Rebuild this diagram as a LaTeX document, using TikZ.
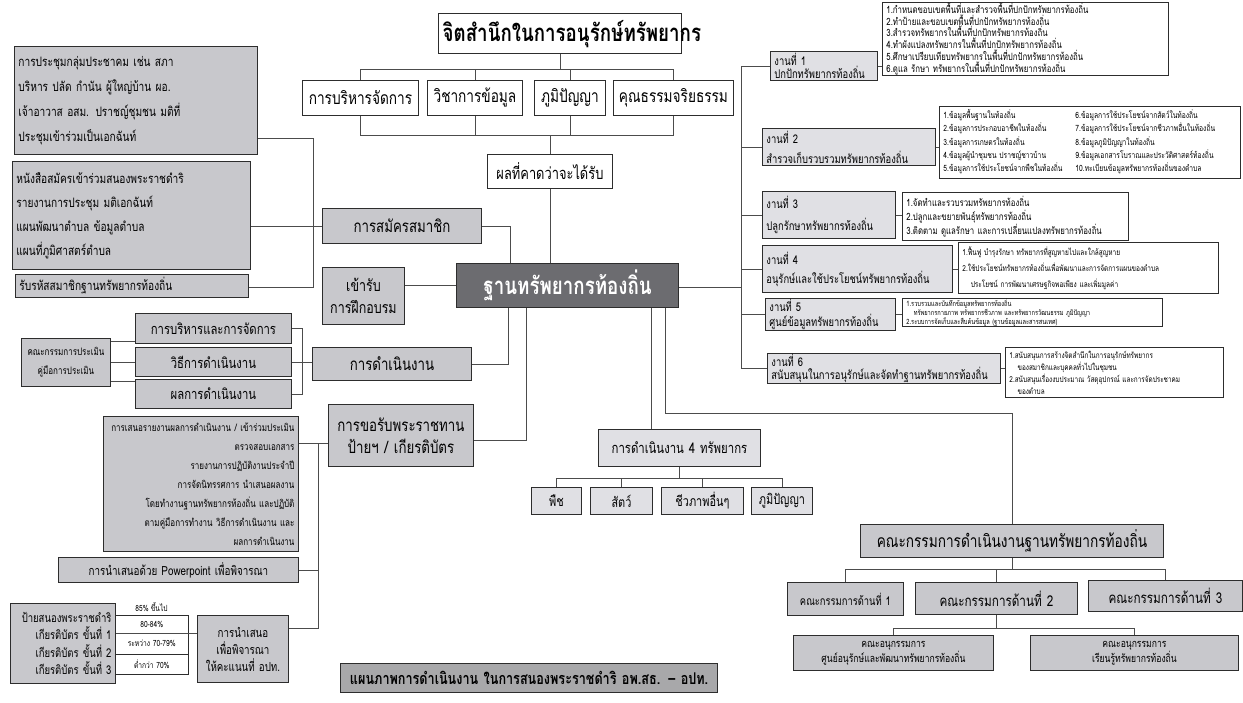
\documentclass[tikz,border=0pt]{standalone}
\usepackage{fontspec}
\setmainfont{Loma}[Script=Thai,FakeStretch=0.78]
\definecolor{gfill}{RGB}{200,200,204}
\definecolor{lfill}{RGB}{224,224,228}
\definecolor{dfill}{RGB}{108,108,112}
\definecolor{tfill}{RGB}{168,168,170}
\definecolor{edge}{RGB}{45,45,45}
\tikzset{
  box/.style={draw=edge,line width=0.9pt,inner xsep=4pt,inner ysep=1pt,align=center,fill=white,font=\fontsize{13}{16}\selectfont},
  grey/.style={fill=gfill},
  lgrey/.style={fill=lfill},
  conn/.style={draw=edge!85,line width=0.7pt},
  det/.style={align=left,inner ysep=0.5pt},
}
\newcommand{\bbox}[7][]{%
  \pgfmathsetmacro\bxw{#5-#3}\pgfmathsetmacro\bxh{#6-#4}\pgfmathsetmacro\bxt{#5-#3-8}%
  \node[box,minimum width=\bxw pt,minimum height=\bxh pt,text width=\bxt pt,anchor=north west,#1] (#2) at (#3,#4) {#7};}
\newcommand{\fs}[2]{\fontsize{#1}{#2}\selectfont}
\begin{document}
\begin{tikzpicture}[x=1pt,y=-1pt]
\fill[white] (0,0) rectangle (1243,703);
\useasboundingbox (0,0) rectangle (1243,703);
% ---------- top tree
\bbox[line width=1.4pt,font=\fs{24}{28}\bfseries]{title}{438}{13}{681}{53}{จิตสำนึกในการอนุรักษ์ทรัพยากร}
\bbox[font=\fs{17.5}{20}]{t1}{302}{80}{418}{115}{การบริหารจัดการ}
\bbox[font=\fs{17.5}{20}]{t2}{427}{80}{522}{115}{วิชาการข้อมูล}
\bbox[font=\fs{17.5}{20}]{t3}{534}{80}{605}{115}{ภูมิปัญญา}
\bbox[font=\fs{17.5}{20}]{t4}{613}{80}{733}{115}{คุณธรรมจริยธรรม}
\bbox[font=\fs{16.5}{20}]{exp}{487}{154}{612}{188}{ผลที่คาดว่าจะได้รับ}
\bbox[fill=dfill,text=white,line width=1.2pt,font=\fs{24}{28}\bfseries]{main}{456}{263}{678}{307}{ฐานทรัพยากรท้องถิ่น}
% ---------- centre left
\bbox[grey,font=\fs{17}{20}]{reg}{322}{208}{481}{243}{การสมัครสมาชิก}
\bbox[grey,font=\fs{16}{22}]{train}{322}{267}{404}{324}{เข้ารับ\\การฝึกอบรม}
\bbox[grey,font=\fs{17}{20}]{op}{312}{347}{471}{380}{การดำเนินงาน}
\bbox[grey,font=\fs{17}{22}]{royal}{328}{404}{473}{466}{การขอรับพระราชทาน\\ป้ายฯ / เกียรติบัตร}
% ---------- left column
\bbox[grey,align=left,font=\fs{13}{25}]{A}{14}{46}{257}{154}{การประชุมกลุ่มประชาคม เช่น สภา\\บริหาร ปลัด กำนัน ผู้ใหญ่บ้าน ผอ.\\เจ้าอาวาส อสม. ปราชญ์ชุมชน มติที่\\ประชุมเข้าร่วมเป็นเอกฉันท์}
\bbox[grey,align=left,font=\fs{13}{24}]{B}{12}{161}{250}{269}{หนังสือสมัครเข้าร่วมสนองพระราชดำริ\\รายงานการประชุม มติเอกฉันท์\\แผนพัฒนาตำบล ข้อมูลตำบล\\แผนที่ภูมิศาสตร์ตำบล}
\bbox[grey,align=left,font=\fs{13}{15}]{C}{15}{274}{248}{297}{รับรหัสสมาชิกฐานทรัพยากรท้องถิ่น}
\bbox[grey,font=\fs{10.3}{19}]{eval}{21}{338}{110}{386}{คณะกรรมการประเมิน\\คู่มือการประเมิน}
\bbox[grey,font=\fs{14.5}{17}]{m1}{135}{313}{291}{343}{การบริหารและการจัดการ}
\bbox[grey,font=\fs{14.5}{17}]{m2}{135}{347}{291}{376}{วิธีการดำเนินงาน}
\bbox[grey,font=\fs{14.5}{17}]{m3}{135}{379}{291}{408}{ผลการดำเนินงาน}
\bbox[grey,align=right,font=\fs{10.3}{19}]{D}{103}{416}{298}{551}{การเสนอรายงานผลการดำเนินงาน / เข้าร่วมประเมิน\\ตรวจสอบเอกสาร\\รายงานการปฏิบัติงานประจำปี\\การจัดนิทรรศการ นำเสนอผลงาน\\โดยทำงานฐานทรัพยากรท้องถิ่น และปฏิบัติ\\ตามคู่มือการทำงาน วิธีการดำเนินงาน และ\\ผลการดำเนินงาน}
\bbox[grey,font=\fs{12.6}{15}]{P}{58}{557}{298}{582}{การนำเสนอด้วย Powerpoint เพื่อพิจารณา}
\bbox[grey,align=right,font=\fs{12.2}{17.3}]{E}{10}{603}{115}{683}{ป้ายสนองพระราชดำริ\\เกียรติบัตร ขั้นที่ 1\\เกียรติบัตร ขั้นที่ 2\\เกียรติบัตร ขั้นที่ 3}
\node[font=\fs{8.5}{10},inner sep=0pt] (r0) at (151.5,607) {85\% ขึ้นไป};
\bbox[line width=0.6pt,inner ysep=0pt,font=\fs{8.5}{10}]{r1}{115}{615}{188}{633}{80-84\%}
\bbox[line width=0.6pt,inner ysep=0pt,font=\fs{8.5}{10}]{r2}{115}{633}{188}{654}{ระหว่าง 70-79\%}
\bbox[line width=0.6pt,inner ysep=0pt,font=\fs{8.5}{10}]{r3}{115}{654}{188}{674}{ต่ำกว่า 70\%}
\bbox[grey,font=\fs{12.5}{17}]{F}{197}{615}{288}{682}{การนำเสนอ\\เพื่อพิจารณา\\ให้คะแนนที่ อปท.}
% ---------- tasks
\bbox[lgrey,align=left,font=\fs{12}{12.5}]{task1}{770}{51}{877}{80}{งานที่ 1\\ปกปักทรัพยากรท้องถิ่น}
\bbox[lgrey,align=left,font=\fs{12}{20}]{task2}{762}{128}{935}{165}{งานที่ 2\\สำรวจเก็บรวบรวมทรัพยากรท้องถิ่น}
\bbox[lgrey,align=left,font=\fs{12}{22}]{task3}{762}{191}{895}{238}{งานที่ 3\\ปลูกรักษาทรัพยากรท้องถิ่น}
\bbox[lgrey,align=left,font=\fs{12}{19}]{task4}{762}{245}{952}{292}{งานที่ 4\\อนุรักษ์และใช้ประโยชน์ทรัพยากรท้องถิ่น}
\bbox[lgrey,align=left,font=\fs{12}{15}]{task5}{765}{298}{895}{330}{งานที่ 5\\ศูนย์ข้อมูลทรัพยากรท้องถิ่น}
\bbox[lgrey,align=left,font=\fs{12}{13}]{task6}{767}{353}{1000}{382}{งานที่ 6\\สนับสนุนในการอนุรักษ์และจัดทำฐานทรัพยากรท้องถิ่น}
\bbox[det,font=\fs{10}{11.7}]{det1}{882}{2}{1168}{73}{1.กำหนดขอบเขตพื้นที่และสำรวจพื้นที่ปกปักทรัพยากรท้องถิ่น\\2.ทำป้ายและขอบเขตพื้นที่ปกปักทรัพยากรท้องถิ่น\\3.สำรวจทรัพยากรในพื้นที่ปกปักทรัพยากรท้องถิ่น\\4.ทำผังแปลงทรัพยากรในพื้นที่ปกปักทรัพยากรท้องถิ่น\\5.ศึกษาเปรียบเทียบทรัพยากรในพื้นที่ปกปักทรัพยากรท้องถิ่น\\6.ดูแล รักษา ทรัพยากรในพื้นที่ปกปักทรัพยากรท้องถิ่น}
\bbox[det,font=\fs{8.6}{13.3}]{det2}{939}{106}{1240}{178}{\begin{tabular}{@{}p{128pt}@{\hspace{4pt}}l@{}}1.ข้อมูลพื้นฐานในท้องถิ่น & 6.ข้อมูลการใช้ประโยชน์จากสัตว์ในท้องถิ่น\\2.ข้อมูลการประกอบอาชีพในท้องถิ่น & 7.ข้อมูลการใช้ประโยชน์จากชีวภาพอื่นในท้องถิ่น\\3.ข้อมูลการเกษตรในท้องถิ่น & 8.ข้อมูลภูมิปัญญาในท้องถิ่น\\4.ข้อมูลผู้นำชุมชน ปราชญ์ชาวบ้าน & 9.ข้อมูลเอกสารโบราณและประวัติศาสตร์ท้องถิ่น\\5.ข้อมูลการใช้ประโยชน์จากพืชในท้องถิ่น & 10.ทะเบียนข้อมูลทรัพยากรท้องถิ่นของตำบล\end{tabular}}
\bbox[det,font=\fs{10}{14}]{det3}{902}{192}{1128}{240}{1.จัดทำและรวบรวมทรัพยากรท้องถิ่น\\2.ปลูกและขยายพันธุ์ทรัพยากรท้องถิ่น\\3.ติดตาม ดูแลรักษา และการเปลี่ยนแปลงทรัพยากรท้องถิ่น}
\bbox[det,font=\fs{8.3}{16}]{det4}{958}{242}{1218}{293}{1.ฟื้นฟู บำรุงรักษา ทรัพยากรที่สูญหายไปและใกล้สูญหาย\\2.ใช้ประโยชน์ทรัพยากรท้องถิ่นเพื่อพัฒนาและการจัดการแผนของตำบล\\\quad ประโยชน์ การพัฒนาเศรษฐกิจพอเพียง และเพิ่มมูลค่า}
\bbox[det,font=\fs{7.3}{9}]{det5}{902}{298}{1162}{326}{1.รวบรวมและบันทึกข้อมูลทรัพยากรท้องถิ่น\\\quad ทรัพยากรกายภาพ ทรัพยากรชีวภาพ และทรัพยากรวัฒนธรรม ภูมิปัญญา\\2.ระบบการจัดเก็บและสืบค้นข้อมูล (ฐานข้อมูลและสารสนเทศ)}
\bbox[det,font=\fs{8.2}{12}]{det6}{1005}{347}{1223}{397}{1.สนับสนุนการสร้างจิตสำนึกในการอนุรักษ์ทรัพยากร\\\quad ของสมาชิกและบุคคลทั่วไปในชุมชน\\2.สนับสนุนเรื่องงบประมาณ วัสดุอุปกรณ์ และการจัดประชาคม\\\quad ของตำบล}
% ---------- four resources
\bbox[lgrey,font=\fs{14.6}{17}]{res4}{598}{429}{760}{466}{การดำเนินงาน 4 ทรัพยากร}
\bbox[lgrey,font=\fs{14}{16}]{c1}{531}{487}{581}{514}{พืช}
\bbox[lgrey,font=\fs{14}{16}]{c2}{590}{487}{652}{514}{สัตว์}
\bbox[lgrey,font=\fs{14}{16}]{c3}{661}{487}{743}{514}{ชีวภาพอื่นๆ}
\bbox[lgrey,font=\fs{14}{16}]{c4}{751}{487}{812}{514}{ภูมิปัญญา}
% ---------- committee
\bbox[grey,font=\fs{17.5}{20}]{comm}{860}{524}{1163}{557}{คณะกรรมการดำเนินงานฐานทรัพยากรท้องถิ่น}
\bbox[grey,font=\fs{12}{14}]{cm1}{787}{582}{903}{615}{คณะกรรมการด้านที่ 1}
\bbox[grey,font=\fs{15}{17}]{cm2}{915}{582}{1077}{614}{คณะกรรมการด้านที่ 2}
\bbox[grey,font=\fs{15}{17}]{cm3}{1088}{580}{1242}{611}{คณะกรรมการด้านที่ 3}
\bbox[grey,font=\fs{11}{15}]{s1}{793}{635}{993}{670}{คณะอนุกรรมการ\\ศูนย์อนุรักษ์และพัฒนาทรัพยากรท้องถิ่น}
\bbox[grey,font=\fs{11}{15}]{s2}{1030}{635}{1238}{670}{คณะอนุกรรมการ\\เรียนรู้ทรัพยากรท้องถิ่น}
% ---------- bottom title
\bbox[fill=tfill,line width=1.2pt,font=\fs{16.2}{19}\bfseries]{bt}{340}{663}{717}{692}{แผนภาพการดำเนินงาน ในการสนองพระราชดำริ อพ.สธ. – อปท.}
% ================= connectors
\draw[conn] (title.south) -- (title.south |- 0,69);
\draw[conn] (t1.north) -- (t1.north |- 0,69) -- (t4.north |- 0,69) -- (t4.north);
\draw[conn] (t2.north) -- (t2.north |- 0,69);
\draw[conn] (t3.north) -- (t3.north |- 0,69);
\draw[conn] (t1.south) -- (t1.south |- 0,135) -- (t4.south |- 0,135) -- (t4.south);
\draw[conn] (t2.south) -- (t2.south |- 0,135);
\draw[conn] (t3.south) -- (t3.south |- 0,135);
\draw[conn] (exp.north) -- (exp.north |- 0,135);
\draw[conn] (exp.south) -- (exp.south |- main.north);
% left column to registration
\coordinate (lb1) at (313,138);
\coordinate (lb2) at (313,287);
\draw[conn] (A.east |- lb1) -- (lb1) -- (lb2) -- (C.east |- lb2);
\draw[conn] (B.east |- reg.west) -- (reg.west);
\draw[conn] (reg.east) -| (main.north -| 510,0);
\draw[conn] (train.east |- 0,285) -- (main.west |- 0,285);
\draw[conn] (op.east) -| (main.south -| 508,0);
\draw[conn] (royal.east |- 0,440) -| (main.south -| 526,0);
% evaluation group
\draw[conn] (eval.east |- 0,341) -- (m1.west |- 0,341);
\draw[conn] (eval.east |- m2.west) -- (m2.west);
\draw[conn] (eval.east |- 0,381) -- (m3.west |- 0,381);
\coordinate (mb1) at (302,328);
\coordinate (mb2) at (302,394);
\draw[conn] (m1.east |- mb1) -- (mb1) -- (mb2) -- (m3.east |- mb2);
\draw[conn] (m2.east) -- (op.west |- m2.east);
% royal group
\coordinate (rb1) at (318,443);
\coordinate (rb2) at (318,628);
\draw[conn] (D.east |- rb1) -- (royal.west |- rb1);
\draw[conn] (rb1) -- (rb2) -- (F.east |- rb2);
\draw[conn] (P.east) -- (P.east -| rb1);
\draw[conn] (E.east |- r2.north east) -- (F.west |- r2.north east);
% four resources
\draw[conn] (main.south -| 651,0) -- (res4.north -| 651,0);
\draw[conn] (res4.south) -- (res4.south |- 0,478);
\draw[conn] (c1.north) -- (c1.north |- 0,478) -- (c4.north |- 0,478) -- (c4.north);
\draw[conn] (c2.north) -- (c2.north |- 0,478);
\draw[conn] (c3.north) -- (c3.north |- 0,478);
% committee
\draw[conn] (main.south -| 665,0) -- (665,413) -| (comm.north);
\draw[conn] (comm.south) -- (comm.south |- 0,569);
\draw[conn] (cm1.north) -- (cm1.north |- 0,569) -- (cm3.north |- 0,569) -- (cm3.north);
\draw[conn] (cm2.north) -- (cm2.north |- 0,569);
\draw[conn] (cm2.south) -- (cm2.south |- 0,628);
\draw[conn] (s1.north) -- (s1.north |- 0,628) -- (s2.north |- 0,628) -- (s2.north);
% tasks
\coordinate (tb) at (741,0);
\draw[conn] (main.east |- 0,287) -- (tb |- 0,287);
\draw[conn] (task1.west) -- (task1.west -| tb) -- (task6.west -| tb) -- (task6.west);
\foreach \k in {2,3,4,5}{\draw[conn] (task\k.west) -- (task\k.west -| tb);}
\foreach \k in {1,2,3,4,5,6}{\draw[conn] (task\k.east) -- (task\k.east -| det\k.west);}
\end{tikzpicture}
\end{document}
